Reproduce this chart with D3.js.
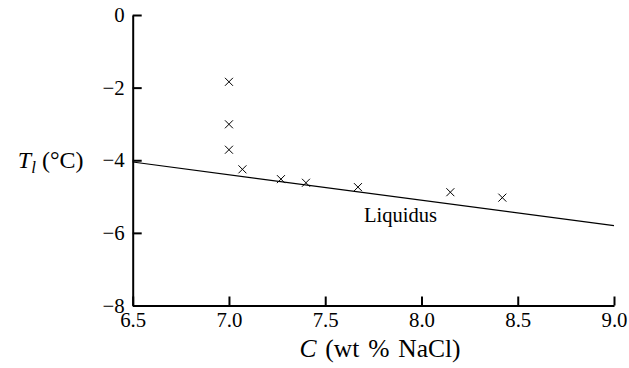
<!DOCTYPE html>
<html>
<head>
<meta charset="utf-8">
<script src="https://cdn.jsdelivr.net/npm/d3@7"></script>
<style>
    body { margin: 0; background: #fff; }
    svg { display: block; font-family: "Liberation Serif", "Times New Roman", serif; }
    .axis path, .axis line { stroke: #000; stroke-width: 2; }
    .axis text { fill: #000; }
</style>
</head>
<body>
<div class="liquidusChart"></div>
<script>
// measured points (concentration vs liquidus temperature)
const concentration = [7.0, 7.0, 7.0, 7.07, 7.27, 7.40, 7.67, 8.15, 8.42];
const temperature = [-1.84, -3.01, -3.71, -4.25, -4.52, -4.62, -4.74, -4.88, -5.03];

// liquidus line end points
const liquidusC = [6.5, 9.0];
const liquidusT = [-4.05, -5.80];

// tick values
const xTicks = [6.5, 7.0, 7.5, 8.0, 8.5, 9.0];
const yTicks = [0, -2, -4, -6, -8];

const width = 629, height = 368;
const margin = { top: 15, right: 15, bottom: 62.5, left: 132.7 };

let svg = d3.select(".liquidusChart").append("svg")
    .attr("width", width)
    .attr("height", height);

let x = d3.scaleLinear()
    .domain([6.5, 9.0])
    .range([margin.left, width - margin.right]);

let y = d3.scaleLinear()
    .domain([-8, 0])
    .range([height - margin.bottom, margin.top]);

// axes, ticks pointing inward
let xAxis = svg.append("g")
    .attr("class", "axis")
    .attr("transform", "translate(0," + y(-8) + ")")
    .call(d3.axisBottom(x).tickValues(xTicks).tickFormat(d3.format(".1f"))
        .tickSizeInner(-9).tickSizeOuter(0).tickPadding(6.5));

let yAxis = svg.append("g")
    .attr("class", "axis")
    .attr("transform", "translate(" + x(6.5) + ",0)")
    .call(d3.axisLeft(y).tickValues(yTicks).tickFormat(d3.format("d"))
        .tickSizeInner(-9).tickSizeOuter(0).tickPadding(8));

// d3 sets sans-serif on the axis group, swap for the serif face
xAxis.attr("font-family", "Liberation Serif").attr("font-size", 20.8);
yAxis.attr("font-family", "Liberation Serif").attr("font-size", 20.8);

// liquidus line
let line = d3.line()
    .x(d => x(d[0]))
    .y(d => y(d[1]));

svg.append("path")
    .datum(liquidusC.map((c, i) => [c, liquidusT[i]]))
    .attr("d", line)
    .attr("fill", "none")
    .attr("stroke", "#000")
    .attr("stroke-width", 1.1);

// cross markers
const s = 4;
svg.append("g")
    .selectAll("path")
    .data(concentration.map((c, i) => [c, temperature[i]]))
    .enter()
        .append("path")
        .attr("d", d => {
            const cx = x(d[0]), cy = y(d[1]);
            return "M" + (cx - s) + "," + (cy - s) + "L" + (cx + s) + "," + (cy + s) +
                   "M" + (cx - s) + "," + (cy + s) + "L" + (cx + s) + "," + (cy - s);
        })
        .attr("stroke", "#000")
        .attr("stroke-width", 1);

// liquidus label
svg.append("text")
    .text("Liquidus")
    .attr("x", 364)
    .attr("y", 221.5)
    .attr("font-size", 20.5);

// x axis title
let xTitle = svg.append("text")
    .attr("x", 380)
    .attr("y", 357)
    .attr("text-anchor", "middle")
    .attr("font-size", 25.5)
    .style("word-spacing", "2.5px");
xTitle.append("tspan").attr("font-style", "italic").text("C");
xTitle.append("tspan").text(" (wt % NaCl)");

// y axis title
let yTitle = svg.append("text")
    .attr("x", 83.5)
    .attr("y", 168)
    .attr("text-anchor", "end")
    .attr("font-size", 24);
yTitle.append("tspan").attr("font-style", "italic").text("T");
yTitle.append("tspan").attr("font-style", "italic").attr("font-size", 17).attr("dy", 5).text("l");
yTitle.append("tspan").attr("dy", -5).text(" (°C)");
</script>
</body>
</html>
